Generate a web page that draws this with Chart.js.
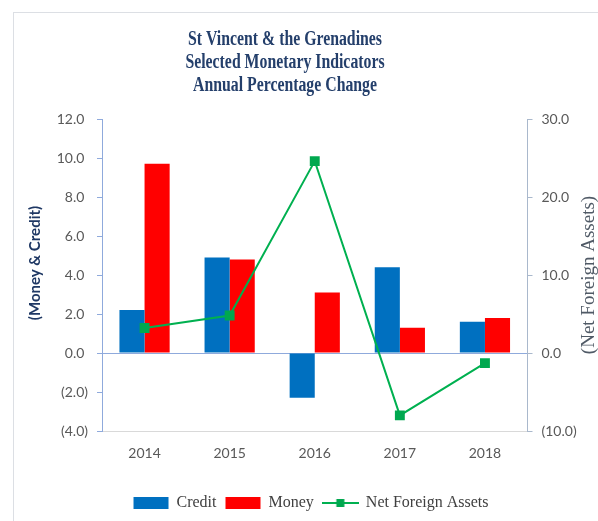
<!DOCTYPE html>
<html>
<head>
<meta charset="utf-8">
<title>Selected Monetary Indicators</title>
<script src="https://cdn.jsdelivr.net/npm/chart.js@4/dist/chart.umd.min.js"></script>
<style>
    body { margin: 0; background: #fff; }
    #frame { position: absolute; left: 13px; top: 12px; width: 700px; height: 600px;
             border-left: 1px solid #dcdfe4; border-top: 1px solid #dcdfe4; }
    #chart { position: absolute; left: 0; top: 0; }
</style>
</head>
<body>
<div id="frame"></div>
<canvas id="chart" width="598" height="521"></canvas>
<script>
// annual % change, money & credit on left axis, NFA on right axis
var years = ['2014', '2015', '2016', '2017', '2018']
var credit = [2.2, 4.9, -2.3, 4.4, 1.6]
var money = [9.7, 4.8, 3.1, 1.3, 1.8]
var netForeignAssets = [3.2, 4.8, 24.6, -8.0, -1.3]

var titleLines = ['St Vincent & the Grenadines', 'Selected Monetary Indicators', 'Annual Percentage Change']
var leftTitle = '(Money & Credit)'
var rightTitle = '(Net Foreign Assets)'

Chart.defaults.font.family = 'Lato';
Chart.defaults.font.size = 14;

// negatives in brackets, positives padded so the digits line up
function fmt(v, pad){
    if (v < 0) return '(' + Math.abs(v).toFixed(1) + ')'
    return v.toFixed(1) + (pad ? ' ' : '')
}

// legend swatch for the line series: line with a square marker
var nfaSwatch = document.createElement('canvas')
nfaSwatch.width = 37
nfaSwatch.height = 10
var sw = nfaSwatch.getContext('2d')
sw.strokeStyle = '#00B050'
sw.lineWidth = 2
sw.beginPath()
sw.moveTo(0, 5)
sw.lineTo(37, 5)
sw.stroke()
sw.fillStyle = '#00A84F'
sw.fillRect(14.5, 1, 8, 8)

// title and axis titles
const textPlugin = {
    id: 'textPlugin',
    afterDraw(chart){
        const ctx = chart.ctx
        ctx.save()
        ctx.textAlign = 'center'
        ctx.textBaseline = 'middle'

        ctx.font = 'bold 20px "Liberation Serif"'
        ctx.fillStyle = '#243F6B'
        titleLines.forEach((line, i) => {
            ctx.save()
            ctx.translate(285, 40 + i * 23)
            ctx.scale(0.79, 1)
            ctx.fillText(line, 0, 0)
            ctx.restore()
        })

        ctx.font = 'bold 15px Lato'
        ctx.fillStyle = '#1F3864'
        ctx.save()
        ctx.translate(35, 263)
        ctx.rotate(-Math.PI / 2)
        ctx.fillText(leftTitle, 0, 0)
        ctx.restore()

        const area = chart.chartArea
        ctx.font = '19px "Liberation Serif"'
        ctx.fillStyle = '#505a66'
        ctx.save()
        ctx.translate(589, (area.top + area.bottom) / 2)
        ctx.rotate(-Math.PI / 2)
        ctx.fillText(rightTitle, 0, 0)
        ctx.restore()

        ctx.restore()
    }
}

let ctxChart = document.getElementById('chart').getContext('2d');

let chartMonetary = new Chart(ctxChart, {
    type: 'bar',
    data: {
        labels: years,
        datasets: [{
            label: 'Credit',
            data: credit,
            backgroundColor: '#0070C0',
            yAxisID: 'y',
            order: 2,
            categoryPercentage: 0.59,
            barPercentage: 1.0
        }, {
            label: 'Money',
            data: money,
            backgroundColor: '#FF0000',
            yAxisID: 'y',
            order: 2,
            categoryPercentage: 0.59,
            barPercentage: 1.0
        }, {
            type: 'line',
            label: 'Net Foreign Assets',
            data: netForeignAssets,
            borderColor: '#00B050',
            backgroundColor: '#00A84F',
            borderWidth: 2,
            pointStyle: 'rect',
            pointRadius: 7,
            pointBorderWidth: 0,
            tension: 0,
            yAxisID: 'y1',
            order: 1
        }]
    },
    options: {
        responsive: false,
        animation: false,
        devicePixelRatio: 1,
        layout: {
            padding: { top: 119, left: 24, right: 0, bottom: 0 }
        },
        scales: {
            x: {
                grid: { display: false, drawTicks: false },
                border: { display: true, color: '#D9D9D9' },
                ticks: { color: '#595959', padding: 14 },
                afterFit: s => { s.height = 55 }
            },
            y: {
                position: 'left',
                min: -4,
                max: 12,
                ticks: { stepSize: 2, color: '#595959', padding: 9, callback: v => fmt(v, true) },
                grid: {
                    drawOnChartArea: true,
                    color: c => c.tick && c.tick.value === 0 ? '#8FAADC' : 'rgba(0,0,0,0)',
                    tickColor: '#8FAADC',
                    tickLength: 5
                },
                border: { display: true, color: '#8FAADC' },
                afterFit: s => { s.width = 78 }
            },
            y1: {
                position: 'right',
                min: -10,
                max: 30,
                ticks: { stepSize: 10, color: '#595959', padding: 9, callback: v => fmt(v, false) },
                grid: { drawOnChartArea: false, color: '#A9B8CC', tickLength: 5 },
                border: { display: true, color: '#A9B8CC' },
                afterFit: s => { s.width = 70.5 }
            }
        },
        plugins: {
            title: { display: false },
            tooltip: { enabled: false },
            legend: {
                display: true,
                position: 'bottom',
                labels: {
                    usePointStyle: true,
                    pointStyleWidth: 35,
                    boxHeight: 12,
                    padding: 9,
                    color: '#404040',
                    font: { family: 'Liberation Serif', size: 16 },
                    sort: (a, b) => a.datasetIndex - b.datasetIndex,
                    generateLabels: function(chart){
                        const items = Chart.defaults.plugins.legend.labels.generateLabels(chart)
                        items.forEach(it => {
                            it.pointStyle = it.datasetIndex === 2 ? nfaSwatch : 'rect'
                            it.lineWidth = 0
                        })
                        return items
                    }
                }
            }
        }
    },
    plugins: [textPlugin]
})
</script>
</body>
</html>
